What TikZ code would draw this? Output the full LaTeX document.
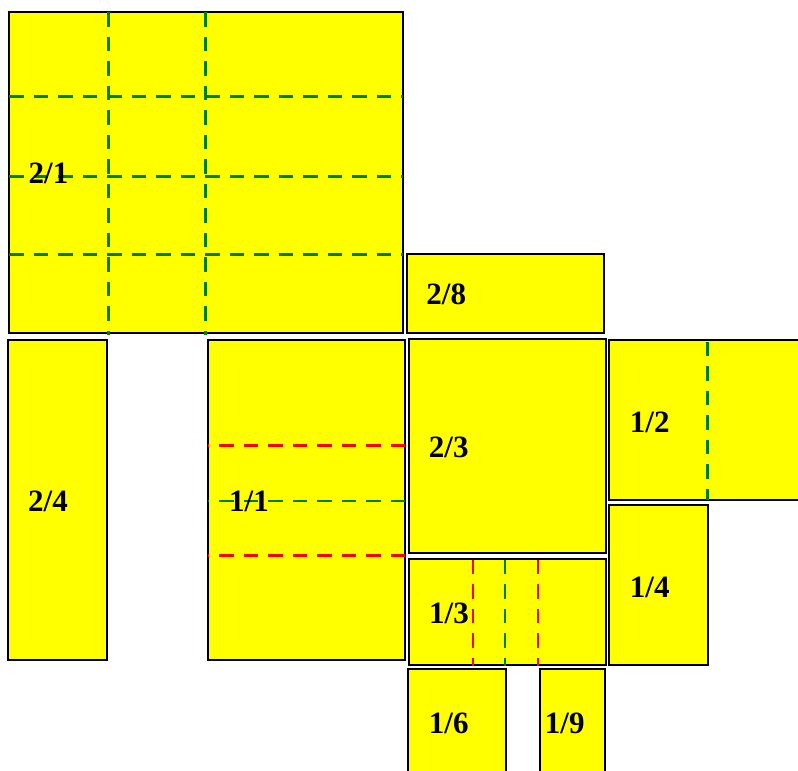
\documentclass[tikz,border=0pt]{standalone}
\usepackage{fontspec}
\setmainfont{Liberation Serif}
\definecolor{hgreen}{RGB}{0,128,0}
\definecolor{hyellow}{RGB}{255,255,0}
\tikzset{
  box/.style={fill=hyellow,draw=black,line width=1.8pt},
  lbl/.style={anchor=west,inner sep=0pt,font=\fontsize{31}{31}\selectfont\bfseries},
  gcut/.style={draw=hgreen,line width=2.5pt,dash pattern=on 14.5pt off 10pt},
  rcut/.style={draw=red,line width=2.8pt,dash pattern=on 14.5pt off 10pt},
  gthin/.style={draw=hgreen,line width=2pt,dash pattern=on 14.5pt off 10pt},
}
\begin{document}
\begin{tikzpicture}[x=1pt,y=-1pt]
\useasboundingbox (0,0) rectangle (798,771);
\clip (0,0) rectangle (798,771);
% rectangles
\draw[box] (9,12.3) rectangle (403,333);
\draw[box] (406.7,254) rectangle (604,333.3);
\draw[box] (8.3,339.7) rectangle (106.7,660);
\draw[box] (208.3,339.7) rectangle (405.3,660);
\draw[box] (409,339.3) rectangle (605.7,553.3);
\draw[box] (609.3,340.3) rectangle (830,500);
\draw[box] (609.3,504.7) rectangle (708,665);
\draw[box] (409,558.7) rectangle (606.3,664.7);
\draw[box] (407.7,669) rectangle (506,800);
\draw[box] (540,669) rectangle (605.3,800);
% cut lines in 2/1
\coordinate (v1t) at (108.3,12.3); \coordinate (v1b) at (108.3,335);
\coordinate (v2t) at (205.3,12.3); \coordinate (v2b) at (205.3,335);
\coordinate (h1l) at (9,96.7);  \coordinate (h1r) at (403,96.7);
\coordinate (h2l) at (9,176.7); \coordinate (h2r) at (403,176.7);
\coordinate (h3l) at (9,254.3); \coordinate (h3r) at (403,254.3);
\draw[gcut] (h1l) -- (h1r);
\draw[gcut] (h2l) -- (h2r);
\draw[gcut] (h3l) -- (h3r);
\draw[gcut] (v1t) -- (v1b);
\draw[gcut] (v2t) -- (v2b);
% cut lines in 1/1
\coordinate (a1l) at (208.3,445.3); \coordinate (a1r) at (405.3,445.3);
\coordinate (a2l) at (208.3,500.7); \coordinate (a2r) at (405.3,500.7);
\coordinate (a3l) at (208.3,555.3); \coordinate (a3r) at (405.3,555.3);
\draw[rcut,dash phase=13.5pt] (a1l) -- (a1r);
\draw[gthin,dash phase=13.5pt] (a2l) -- (a2r);
\draw[rcut,dash phase=13.5pt] (a3l) -- (a3r);
% cut lines in 1/3
\coordinate (b1t) at (473,558.7); \coordinate (b1b) at (473,665.5);
\coordinate (b2t) at (505,558.7); \coordinate (b2b) at (505,665.5);
\coordinate (b3t) at (537.7,558.7); \coordinate (b3b) at (537.7,665.5);
\draw[rcut,line width=2.2pt,dash phase=-1pt] (b1t) -- (b1b);
\draw[gthin,line width=2.2pt,dash phase=-1pt] (b2t) -- (b2b);
\draw[rcut,line width=2.2pt,dash phase=-1pt] (b3t) -- (b3b);
% cut line in 1/2
\coordinate (c1t) at (707.3,341.5); \coordinate (c1b) at (707.3,500);
\draw[gcut] (c1t) -- (c1b);
% labels
\node[lbl] (l21) at (28.5,173) {2/1};
\node[lbl] (l28) at (426.2,294.5) {2/8};
\node[lbl] (l24) at (28,501.5) {2/4};
\node[lbl] (l11) at (229,501.5) {1/1};
\node[lbl] (l23) at (428.7,447.5) {2/3};
\node[lbl] (l12) at (629.7,422) {1/2};
\node[lbl] (l14) at (629.7,587) {1/4};
\node[lbl] (l13) at (429,613) {1/3};
\node[lbl] (l16) at (428.7,723.5) {1/6};
\node[lbl] (l19) at (544.7,723.5) {1/9};
\end{tikzpicture}
\end{document}
